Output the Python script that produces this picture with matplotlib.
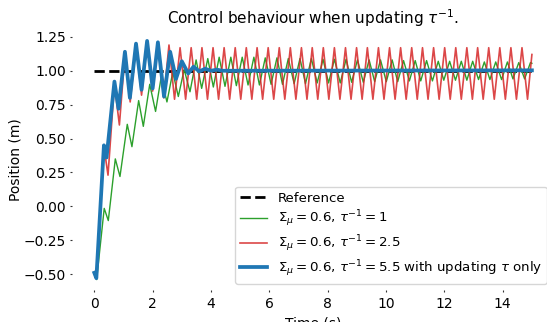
import matplotlib
matplotlib.use("Agg")
import matplotlib.pyplot as plt

# Reference position
ref_t = [0.0, 15.0]
ref_v = [1.0, 1.0]

# Sigma_mu = 0.6, tau^-1 = 1 (extrema)
green_t = [0.0, 0.08, 0.34, 0.48, 0.72, 0.88, 1.13, 1.29, 1.52, 1.68, 1.90, 2.10, 2.29, 2.49,
           2.69, 2.88, 3.08, 3.28,
           3.49, 3.68, 3.89, 4.08, 4.28, 4.48, 4.68, 4.87, 5.07, 5.27, 5.47, 5.66, 5.86, 6.06,
           6.26, 6.45, 6.65, 6.85, 7.05, 7.24, 7.44, 7.64, 7.84, 8.03, 8.23, 8.43, 8.63, 8.82,
           9.02, 9.22, 9.42, 9.61, 9.81, 10.01, 10.21, 10.40, 10.60, 10.80, 11.00, 11.19, 11.39,
           11.59, 11.79, 11.98, 12.18, 12.38, 12.58, 12.77, 12.97, 13.17, 13.37, 13.56, 13.76,
           13.96, 14.16, 14.35, 14.55, 14.75, 14.95, 15.0]
green_v = [-0.50, -0.54, -0.015, -0.105, 0.35, 0.22, 0.605, 0.44, 0.78, 0.59, 0.90, 0.70, 0.95, 0.77,
           0.99, 0.81, 1.01, 0.845,
           1.08, 0.87, 1.09, 0.88, 1.10, 0.885, 1.10, 0.89, 1.10, 0.895, 1.10, 0.895, 1.095, 0.90,
           1.095, 0.90, 1.09, 0.905, 1.09, 0.905, 1.09, 0.91, 1.085, 0.91, 1.085, 0.91, 1.085, 0.915,
           1.08, 0.915, 1.08, 0.92, 1.08, 0.92, 1.08, 0.92, 1.075, 0.925, 1.075, 0.925, 1.075,
           0.925, 1.07, 0.93, 1.07, 0.93, 1.07, 0.93, 1.07, 0.935, 1.065, 0.935, 1.065,
           0.935, 1.065, 0.94, 1.06, 0.94, 1.06, 1.055]

# Sigma_mu = 0.6, tau^-1 = 2.5
red_t = [0.0, 0.07, 0.33, 0.47, 0.69, 0.86, 1.05, 1.23, 1.43, 1.62, 1.81, 2.00, 2.18, 2.38,
         2.56, 2.75, 2.94, 3.13, 3.32, 3.51, 3.69, 3.88, 4.07, 4.26, 4.45, 4.64, 4.83, 5.02,
         5.21, 5.40, 5.58, 5.77, 5.96, 6.15, 6.34, 6.53, 6.72, 6.91, 7.10, 7.29, 7.47, 7.66,
         7.85, 8.04, 8.23, 8.42, 8.61, 8.80, 8.99, 9.18, 9.36, 9.55, 9.74, 9.93, 10.12, 10.31,
         10.50, 10.69, 10.88, 11.07, 11.25, 11.44, 11.63, 11.82, 12.01, 12.20, 12.39, 12.58,
         12.77, 12.96, 13.14, 13.33, 13.52, 13.71, 13.90, 14.09, 14.28, 14.47, 14.66, 14.85, 15.0]
red_v = [-0.49, -0.53, 0.44, 0.23, 0.90, 0.60, 1.12, 0.77, 1.19, 0.82, 1.21, 0.85, 1.20, 0.80,
         1.19, 0.79, 1.17, 0.79, 1.17, 0.79, 1.17, 0.79, 1.17, 0.79, 1.17, 0.79, 1.17, 0.79,
         1.17, 0.79, 1.17, 0.79, 1.17, 0.79, 1.17, 0.79, 1.17, 0.79, 1.17, 0.79, 1.17, 0.79,
         1.17, 0.79, 1.17, 0.79, 1.17, 0.79, 1.17, 0.79, 1.17, 0.79, 1.17, 0.79, 1.17, 0.79,
         1.17, 0.79, 1.17, 0.79, 1.17, 0.79, 1.17, 0.79, 1.17, 0.79, 1.17, 0.79,
         1.17, 0.79, 1.17, 0.79, 1.17, 0.79, 1.17, 0.79, 1.17, 0.79, 1.17, 0.79, 1.12]

# Sigma_mu = 0.6, tau^-1 = 5.5 with updating tau only
blue_t = [0.0, 0.07, 0.33, 0.42, 0.69, 0.83, 1.05, 1.22, 1.43, 1.62, 1.81, 2.00, 2.18, 2.39,
          2.60, 2.80, 3.00, 3.22, 3.40, 3.60, 3.80, 4.00, 4.20, 4.40, 15.0]
blue_v = [-0.49, -0.53, 0.45, 0.36, 0.92, 0.72, 1.14, 0.80, 1.20, 0.86, 1.22, 0.87, 1.21, 0.81,
          1.14, 0.94, 1.07, 0.98, 1.03, 0.995, 1.015, 1.0, 1.008, 1.0, 1.003]

labels = ["Reference",
          r"$\Sigma_{\mu} = 0.6$, $\tau^{-1} = 1$",
          r"$\Sigma_{\mu} = 0.6$, $\tau^{-1} = 2.5$",
          r"$\Sigma_{\mu} = 0.6$, $\tau^{-1} = 5.5$ with updating $\tau$ only"]

fig = plt.figure(figsize=(5.47, 3.22), dpi=100)
ax = fig.add_axes([0.1324, 0.0981, 0.880, 0.8127])

ax.plot(ref_t, ref_v, "k--", lw=2, label=labels[0])
ax.plot(green_t, green_v, color="#2ca02c", lw=1, label=labels[1])
ax.plot(red_t, red_v, color="#d62728", lw=1.2, alpha=0.85, label=labels[2])
ax.plot(blue_t, blue_v, color="#1f77b4", lw=2.7, label=labels[3])

ax.set_xlim(-0.75, 15.75)
ax.set_ylim(-0.62, 1.31)
for s in ax.spines.values():
    s.set_visible(False)
ax.tick_params(length=1.5, width=0.8, color="#333333", labelsize=10, pad=3)
ax.set_xticks([0, 2, 4, 6, 8, 10, 12, 14])
ax.set_yticks([-0.5, -0.25, 0, 0.25, 0.5, 0.75, 1.0, 1.25])

ax.set_title(r"Control behaviour when updating $\tau^{-1}$.", fontsize=11, pad=3)
ax.set_xlabel("Time (s)", fontsize=10)
ax.set_ylabel("Position (m)", fontsize=10, labelpad=1)
ax.legend(loc="lower right", fontsize=9.6, framealpha=0.8, labelspacing=0.3,
          handletextpad=0.8, borderpad=0.38)

fig.savefig("out.png", dpi=100)
